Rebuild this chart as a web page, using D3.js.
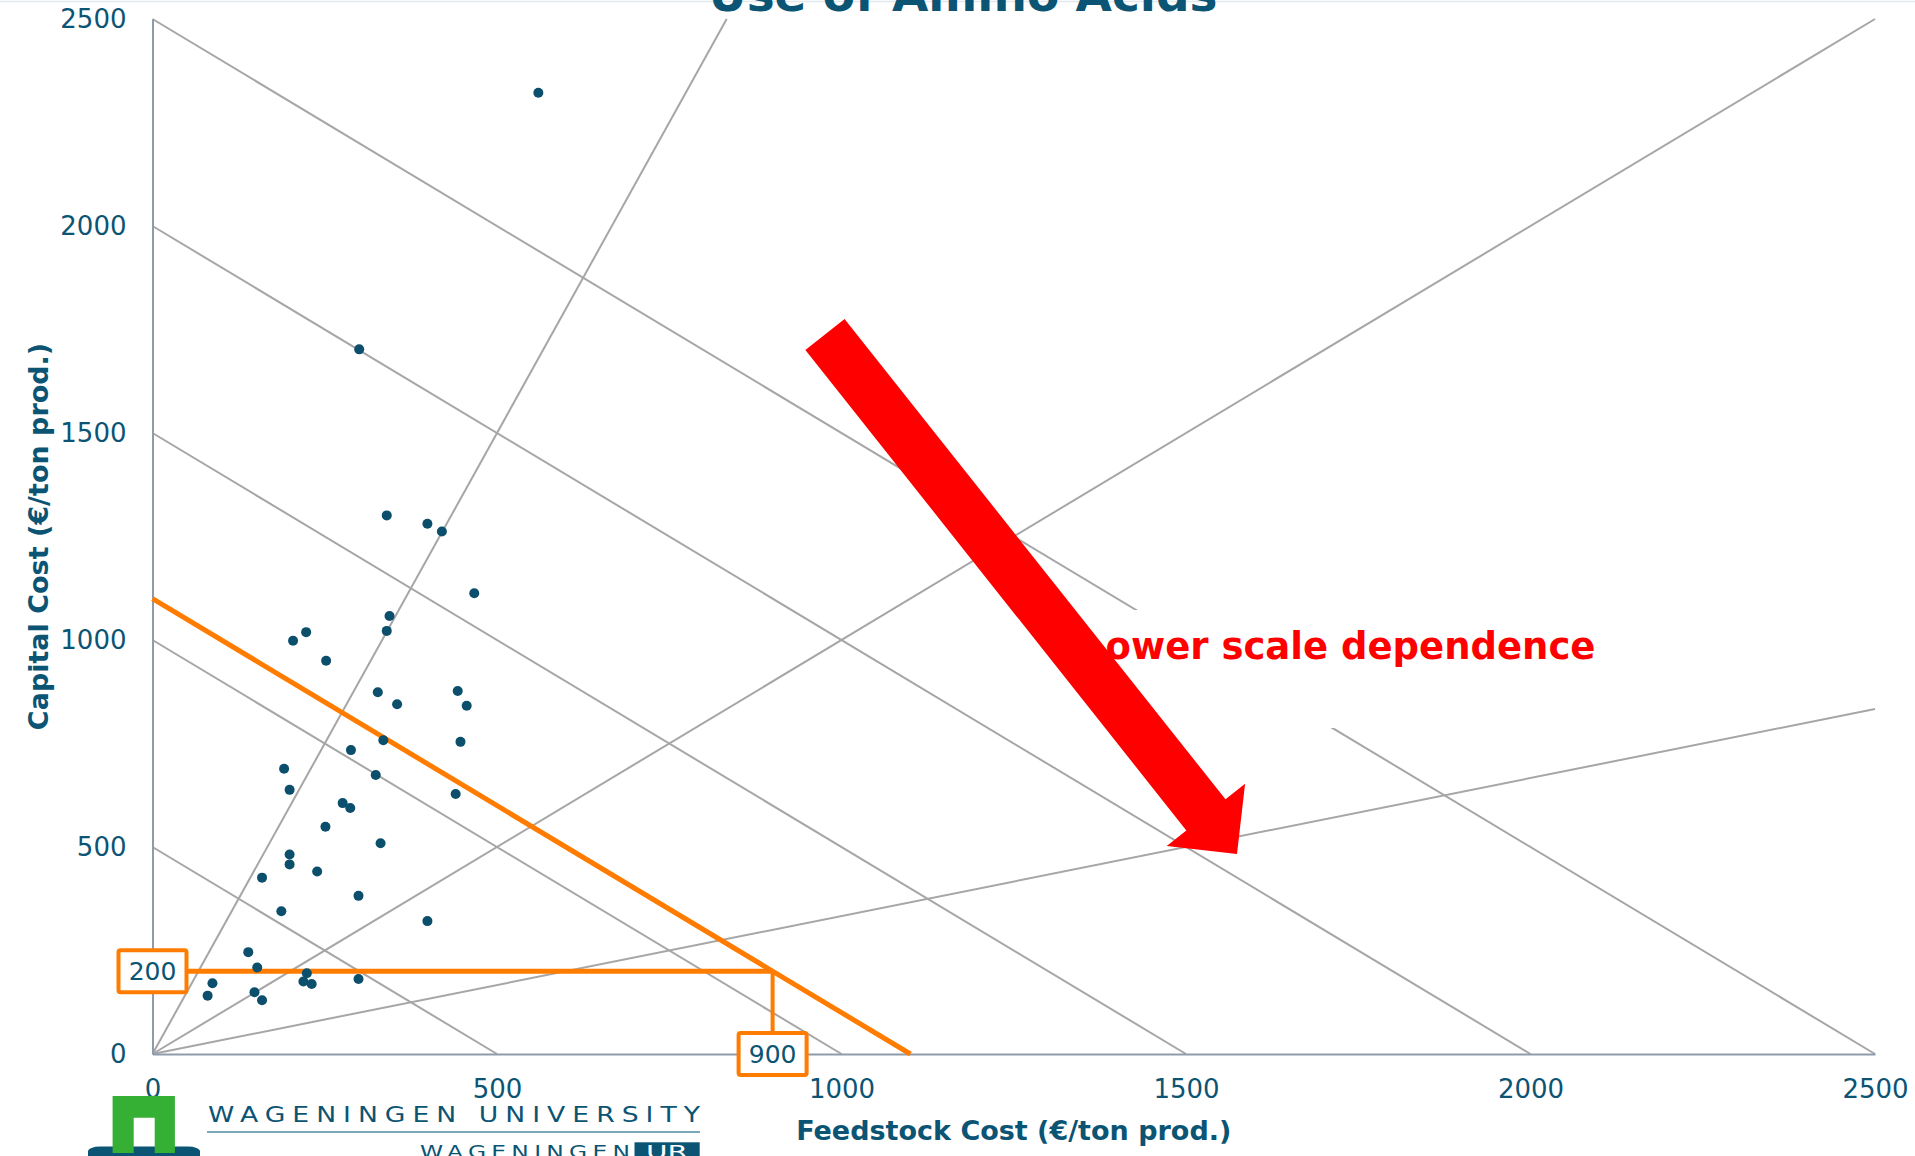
<!DOCTYPE html>
<html>
<head>
<meta charset="utf-8">
<script src="https://cdn.jsdelivr.net/npm/d3@7"></script>
<style>
  html, body { margin: 0; padding: 0; background: #fff; overflow: hidden; }
  text { font-family: "DejaVu Sans", Verdana, sans-serif; }
</style>
</head>
<body>
<svg id="chart" width="1915" height="1156"></svg>
<script>
// Cost of each amino-acid production route (€/ton product)
const feedstock = [560, 300, 340, 399, 420, 467, 344, 340, 223, 204, 252, 327, 443, 355, 456,
                   335, 447, 288, 191, 199, 324, 440, 276, 287, 251, 331, 199, 199, 239, 159,
                   299, 187, 399, 139, 152, 224, 219, 231, 87, 80, 148, 159, 299];
const capital   = [2322, 1702, 1301, 1281, 1262, 1113, 1058, 1022, 1019, 998, 950, 874, 877, 845, 841,
                   758, 754, 734, 689, 638, 674, 628, 606, 594, 549, 509, 482, 458, 441, 426,
                   382, 345, 321, 246, 209, 195, 175, 169, 171, 141, 149, 130, 181];

const xTicks = [0, 500, 1000, 1500, 2000, 2500];
const yTicks = [0, 500, 1000, 1500, 2000, 2500];

// Iso-total-cost lines (feedstock + capital = level)
const totalCostLevels = [500, 1000, 1500, 2000, 2500];
// Capital / feedstock ratio rays from the origin
const ratioLines = [3, 1, 1 / 3];

// Highlighted example: total cost 1100 split as 900 feedstock + 200 capital
const highlightTotal = 1100;
const highlightFeed = 900;
const highlightCapital = 200;

// Annotation arrow, start and end in data units
const arrowFrom = [976, 1738];
const arrowTo = [1574, 483];

const W = 1915, H = 1156;
const navy = "#0b5473";
const grey = "#a6a6a6";
const orange = "#ff7c00";
const red = "#ff0000";

const svg = d3.select("#chart");

const x = d3.scaleLinear().domain([0, 2500]).range([152.5, 1875]);
const y = d3.scaleLinear().domain([0, 2500]).range([1054, 19]);

// slide header rule and title
svg.append("line")
  .attr("x1", 0).attr("x2", W).attr("y1", 1.5).attr("y2", 1.5)
  .attr("stroke", "#e1e8ef").attr("stroke-width", 1.5);
svg.append("text")
  .attr("x", 963).attr("y", 11)
  .attr("text-anchor", "middle")
  .attr("font-size", 47).attr("font-weight", "bold")
  .attr("fill", navy)
  .text("Use of Amino Acids");

// guide lines
const guides = svg.append("g").attr("stroke", grey).attr("stroke-width", 2).attr("fill", "none");
guides.selectAll("line.iso").data(totalCostLevels).join("line")
  .attr("class", "iso")
  .attr("x1", x(0)).attr("y1", d => y(d))
  .attr("x2", d => x(d)).attr("y2", y(0));
guides.selectAll("line.ray").data(ratioLines).join("line")
  .attr("class", "ray")
  .attr("x1", x(0)).attr("y1", y(0))
  .attr("x2", r => x(r >= 1 ? 2500 / r : 2500))
  .attr("y2", r => y(r >= 1 ? 2500 : 2500 * r));

// annotation text on a white text box
const noteX = 1082, noteY = 659;
svg.append("rect")
  .attr("x", noteX - 10).attr("y", 610).attr("width", 533).attr("height", 118)
  .attr("fill", "#fff");
svg.append("text")
  .attr("x", noteX).attr("y", noteY)
  .attr("font-size", 37).attr("font-weight", "bold")
  .attr("fill", red)
  .text("Lower scale dependence");

// axes
const fmt = d3.format("d");
const xAxis = svg.append("g")
  .attr("transform", `translate(0,${y(0)})`)
  .call(d3.axisBottom(x).tickValues(xTicks).tickFormat(fmt).tickSize(0).tickSizeOuter(0).tickPadding(26));
const yAxis = svg.append("g")
  .attr("transform", `translate(${x(0)},0)`)
  .call(d3.axisLeft(y).tickValues(yTicks).tickFormat(fmt).tickSize(0).tickSizeOuter(0).tickPadding(26));
[xAxis, yAxis].forEach(g => {
  g.select(".domain").attr("stroke", "#8d9cad").attr("stroke-width", 2);
  g.selectAll(".tick text")
    .attr("font-size", 26)
    .attr("font-family", "DejaVu Sans, Verdana, sans-serif")
    .attr("fill", navy);
});

// axis titles
svg.append("text")
  .attr("x", (x(0) + x(2500)) / 2).attr("y", 1140)
  .attr("text-anchor", "middle")
  .attr("font-size", 27).attr("font-weight", "bold")
  .attr("fill", navy)
  .text("Feedstock Cost (€/ton prod.)");
svg.append("text")
  .attr("transform", `translate(48,${(y(0) + y(2500)) / 2}) rotate(-90)`)
  .attr("text-anchor", "middle")
  .attr("font-size", 27).attr("font-weight", "bold")
  .attr("fill", navy)
  .text("Capital Cost (€/ton prod.)");

// highlighted iso-cost line and its example split
svg.append("line")
  .attr("x1", x(0)).attr("y1", y(highlightTotal))
  .attr("x2", x(highlightTotal)).attr("y2", y(0))
  .attr("stroke", orange).attr("stroke-width", 5);
svg.append("path")
  .attr("d", `M${x(0)},${y(highlightCapital)}H${x(highlightFeed)}`)
  .attr("stroke", orange).attr("stroke-width", 5).attr("fill", "none");
svg.append("path")
  .attr("d", `M${x(highlightFeed)},${y(highlightCapital)}V${y(0)}`)
  .attr("stroke", orange).attr("stroke-width", 4).attr("fill", "none");

const callouts = [
  { cx: x(0), cy: y(highlightCapital), label: String(highlightCapital) },
  { cx: x(highlightFeed), cy: y(0), label: String(highlightFeed) }
];
const cg = svg.selectAll("g.callout").data(callouts).join("g")
  .attr("class", "callout")
  .attr("transform", d => `translate(${d.cx},${d.cy})`);
cg.append("rect")
  .attr("x", -34).attr("y", -21).attr("width", 68).attr("height", 42).attr("rx", 2)
  .attr("fill", "#fff").attr("stroke", orange).attr("stroke-width", 4);
cg.append("text")
  .attr("text-anchor", "middle").attr("dy", "0.36em")
  .attr("font-size", 25).attr("fill", navy)
  .text(d => d.label);

// data points
svg.append("g").selectAll("circle")
  .data(feedstock.map((f, i) => [f, capital[i]]))
  .join("circle")
  .attr("cx", d => x(d[0]))
  .attr("cy", d => y(d[1]))
  .attr("r", 5)
  .attr("fill", "#0b4f6c");

// block arrow
(function drawArrow() {
  const x0 = x(arrowFrom[0]), y0 = y(arrowFrom[1]);
  const x1 = x(arrowTo[0]), y1 = y(arrowTo[1]);
  const len = Math.hypot(x1 - x0, y1 - y0);
  const ux = (x1 - x0) / len, uy = (y1 - y0) / len;
  const nx = -uy, ny = ux;
  const shaft = 25, head = 50, headLen = 50;
  const bx = x1 - ux * headLen, by = y1 - uy * headLen;
  const pts = [
    [x0 + nx * shaft, y0 + ny * shaft],
    [bx + nx * shaft, by + ny * shaft],
    [bx + nx * head, by + ny * head],
    [x1, y1],
    [bx - nx * head, by - ny * head],
    [bx - nx * shaft, by - ny * shaft],
    [x0 - nx * shaft, y0 - ny * shaft]
  ];
  svg.append("path")
    .attr("d", d3.line()(pts) + "Z")
    .attr("fill", red);
})();

// university logo
const logo = svg.append("g");
logo.append("rect")
  .attr("x", 88).attr("y", 1146.5).attr("width", 112).attr("height", 20)
  .attr("rx", 12).attr("ry", 5).attr("fill", navy);
logo.append("path")
  .attr("d", "M112.6,1153V1096H174.9V1153H154.7V1117.7H133.7V1153Z")
  .attr("fill", "#36b034");
logo.append("text")
  .attr("transform", "translate(208,1121.7) scale(1.3,1)")
  .attr("font-size", 20.5).attr("fill", navy)
  .attr("textLength", 492 / 1.3).attr("lengthAdjust", "spacing")
  .text("WAGENINGEN UNIVERSITY");
logo.append("line")
  .attr("x1", 207).attr("x2", 700).attr("y1", 1132).attr("y2", 1132)
  .attr("stroke", "#4f8aa5").attr("stroke-width", 1.5);
logo.append("text")
  .attr("transform", "translate(420,1157.5) scale(1.3,1)")
  .attr("font-size", 18).attr("fill", navy)
  .attr("textLength", 210 / 1.3).attr("lengthAdjust", "spacing")
  .text("WAGENINGEN");
logo.append("rect")
  .attr("x", 634.5).attr("y", 1142.3).attr("width", 65.2).attr("height", 20)
  .attr("fill", navy);
logo.append("text")
  .attr("x", 667).attr("y", 1157.5)
  .attr("text-anchor", "middle")
  .attr("font-size", 18).attr("fill", "#fff")
  .attr("textLength", 42).attr("lengthAdjust", "spacingAndGlyphs")
  .text("UR");
</script>
</body>
</html>
